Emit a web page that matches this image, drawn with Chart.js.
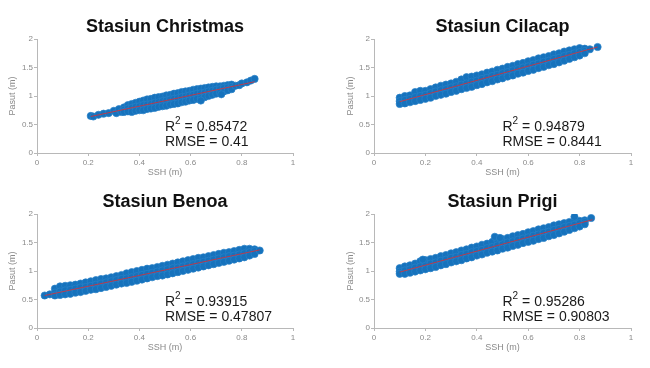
<!DOCTYPE html>
<html>
<head>
<meta charset="utf-8">
<script src="https://cdn.jsdelivr.net/npm/chart.js@4.4.1/dist/chart.umd.min.js"></script>
<style>
  html, body { margin: 0; padding: 0; background: #fff; width: 650px; height: 368px; overflow: hidden; }
  .panel { position: absolute; width: 325px; height: 184px; }
</style>
</head>
<body>
<div class="panel" style="left:0;top:0"><canvas id="c0" width="325" height="184"></canvas></div>
<div class="panel" style="left:325px;top:0"><canvas id="c1" width="325" height="184"></canvas></div>
<div class="panel" style="left:0;top:184px"><canvas id="c2" width="325" height="184"></canvas></div>
<div class="panel" style="left:325px;top:184px"><canvas id="c3" width="325" height="184"></canvas></div>
<script>
// ---------------- DATA ----------------
const stationNames = ['Stasiun Christmas', 'Stasiun Cilacap', 'Stasiun Benoa', 'Stasiun Prigi'];
const r2Values = ['0.85472', '0.94879', '0.93915', '0.95286'];
const rmseValues = ['0.41', '0.8441', '0.47807', '0.90803'];
const xTicks = [0, 0.2, 0.4, 0.6, 0.8, 1];
const yTicks = [0, 0.5, 1, 1.5, 2];
const xLabel = 'SSH (m)';
const yLabel = 'Pasut (m)';

// regression line end points [x0, x1], [y0, y1]
const christmasFitX = [0.21, 0.85], christmasFitY = [0.64, 1.25];
const cilacapFitX = [0.10, 0.87], cilacapFitY = [0.90, 1.86];
const benoaFitX = [0.03, 0.87], benoaFitY = [0.57, 1.37];
const prigiFitX = [0.10, 0.85], prigiFitY = [0.98, 1.90];

// scatter samples [SSH, Pasut]
const christmasPoints = [
  [0.21,0.65],[0.22,0.64],[0.24,0.67],[0.26,0.69],[0.28,0.70],[0.30,0.74],[0.31,0.70],[0.32,0.77],[0.33,0.72],
  [0.34,0.80],[0.34,0.76],[0.34,0.72],[0.355,0.84],[0.355,0.78],[0.355,0.73],[0.37,0.86],[0.37,0.79],[0.37,0.72],
  [0.385,0.88],[0.385,0.81],[0.385,0.74],[0.40,0.90],[0.40,0.82],[0.40,0.75],[0.415,0.92],[0.415,0.84],[0.415,0.75],
  [0.43,0.94],[0.43,0.85],[0.43,0.77],[0.445,0.95],[0.445,0.86],[0.445,0.78],[0.46,0.97],[0.46,0.88],[0.46,0.79],
  [0.475,0.98],[0.475,0.89],[0.475,0.81],[0.49,0.99],[0.49,0.91],[0.49,0.82],[0.505,1.01],[0.505,0.92],[0.505,0.83],
  [0.52,1.02],[0.52,0.94],[0.52,0.85],[0.535,1.04],[0.535,0.95],[0.535,0.86],[0.55,1.05],[0.55,0.96],[0.55,0.87],
  [0.565,1.07],[0.565,0.98],[0.565,0.89],[0.58,1.08],[0.58,0.99],[0.58,0.90],[0.595,1.09],[0.595,1.01],[0.595,0.92],
  [0.61,1.11],[0.61,1.02],[0.61,0.93],[0.625,1.12],[0.625,1.04],[0.625,0.95],[0.64,1.13],[0.64,1.05],[0.64,0.96],
  [0.655,1.14],[0.655,1.06],[0.655,0.98],[0.67,1.15],[0.67,1.08],[0.67,1.00],[0.685,1.16],[0.685,1.09],[0.685,1.02],
  [0.70,1.17],[0.70,1.11],[0.70,1.04],[0.715,1.17],[0.715,1.12],[0.715,1.06],[0.73,1.18],[0.73,1.14],[0.73,1.08],
  [0.745,1.19],[0.745,1.15],[0.745,1.10],[0.76,1.20],[0.76,1.16],[0.76,1.12],
  [0.775,1.18],[0.79,1.19],[0.80,1.22],[0.82,1.24],[0.835,1.27],[0.85,1.30],[0.72,1.03],[0.64,0.92]
];
const cilacapPoints = [
  [0.10,0.97],[0.10,0.91],[0.10,0.86],[0.12,1.00],[0.12,0.93],[0.12,0.87],[0.14,1.01],[0.14,0.95],[0.14,0.89],
  [0.16,1.07],[0.16,0.98],[0.16,0.91],[0.18,1.09],[0.18,1.00],[0.18,0.93],[0.20,1.09],[0.20,1.02],[0.20,0.95],
  [0.22,1.12],[0.22,1.05],[0.22,0.97],[0.24,1.15],[0.24,1.08],[0.24,1.00],[0.26,1.18],[0.26,1.10],[0.26,1.02],
  [0.28,1.20],[0.28,1.12],[0.28,1.04],[0.30,1.22],[0.30,1.15],[0.30,1.07],[0.32,1.25],[0.32,1.17],[0.32,1.09],
  [0.34,1.29],[0.34,1.20],[0.34,1.12],[0.36,1.33],[0.36,1.22],[0.36,1.14],[0.38,1.34],[0.38,1.25],[0.38,1.16],
  [0.40,1.36],[0.40,1.27],[0.40,1.19],[0.42,1.38],[0.42,1.30],[0.42,1.21],[0.44,1.41],[0.44,1.32],[0.44,1.24],
  [0.46,1.43],[0.46,1.35],[0.46,1.26],[0.48,1.46],[0.48,1.37],[0.48,1.29],[0.50,1.48],[0.50,1.40],[0.50,1.31],
  [0.52,1.51],[0.52,1.42],[0.52,1.34],[0.54,1.53],[0.54,1.45],[0.54,1.36],[0.56,1.56],[0.56,1.47],[0.56,1.39],
  [0.58,1.58],[0.58,1.50],[0.58,1.41],[0.60,1.61],[0.60,1.52],[0.60,1.44],[0.62,1.63],[0.62,1.55],[0.62,1.46],
  [0.64,1.66],[0.64,1.57],[0.64,1.49],[0.66,1.68],[0.66,1.60],[0.66,1.51],[0.68,1.70],[0.68,1.62],[0.68,1.54],
  [0.70,1.73],[0.70,1.65],[0.70,1.56],[0.72,1.75],[0.72,1.67],[0.72,1.59],[0.74,1.78],[0.74,1.70],[0.74,1.62],
  [0.76,1.80],[0.76,1.72],[0.76,1.65],[0.78,1.82],[0.78,1.75],[0.78,1.68],[0.80,1.84],[0.80,1.77],[0.80,1.71],
  [0.82,1.83],[0.82,1.79],[0.82,1.75],[0.84,1.82],[0.87,1.86]
];
const benoaPoints = [
  [0.03,0.57],[0.05,0.59],
  [0.07,0.69],[0.07,0.62],[0.07,0.57],[0.09,0.73],[0.09,0.64],[0.09,0.58],[0.11,0.74],[0.11,0.66],[0.11,0.59],
  [0.13,0.75],[0.13,0.67],[0.13,0.60],[0.15,0.76],[0.15,0.69],[0.15,0.62],[0.17,0.78],[0.17,0.71],[0.17,0.63],
  [0.19,0.80],[0.19,0.72],[0.19,0.65],[0.21,0.82],[0.21,0.74],[0.21,0.67],[0.23,0.84],[0.23,0.76],[0.23,0.68],
  [0.25,0.86],[0.25,0.78],[0.25,0.70],[0.27,0.87],[0.27,0.80],[0.27,0.72],[0.29,0.89],[0.29,0.82],[0.29,0.74],
  [0.31,0.91],[0.31,0.84],[0.31,0.76],[0.33,0.93],[0.33,0.86],[0.33,0.78],[0.35,0.96],[0.35,0.87],[0.35,0.79],
  [0.37,0.98],[0.37,0.89],[0.37,0.81],[0.39,1.00],[0.39,0.91],[0.39,0.83],[0.41,1.02],[0.41,0.93],[0.41,0.85],
  [0.43,1.04],[0.43,0.95],[0.43,0.87],[0.45,1.05],[0.45,0.97],[0.45,0.89],[0.47,1.07],[0.47,0.99],[0.47,0.91],
  [0.49,1.09],[0.49,1.01],[0.49,0.92],[0.51,1.11],[0.51,1.03],[0.51,0.94],[0.53,1.13],[0.53,1.05],[0.53,0.96],
  [0.55,1.15],[0.55,1.06],[0.55,0.98],[0.57,1.17],[0.57,1.08],[0.57,1.00],[0.59,1.19],[0.59,1.10],[0.59,1.02],
  [0.61,1.21],[0.61,1.12],[0.61,1.04],[0.63,1.23],[0.63,1.14],[0.63,1.06],[0.65,1.24],[0.65,1.16],[0.65,1.08],
  [0.67,1.26],[0.67,1.18],[0.67,1.10],[0.69,1.28],[0.69,1.20],[0.69,1.12],[0.71,1.30],[0.71,1.22],[0.71,1.14],
  [0.73,1.32],[0.73,1.24],[0.73,1.16],[0.75,1.33],[0.75,1.26],[0.75,1.18],[0.77,1.35],[0.77,1.27],[0.77,1.20],
  [0.79,1.37],[0.79,1.29],[0.79,1.22],[0.81,1.39],[0.81,1.31],[0.81,1.24],[0.83,1.39],[0.83,1.33],[0.83,1.27],
  [0.85,1.38],[0.85,1.35],[0.85,1.30],[0.87,1.36]
];
const prigiPoints = [
  [0.10,1.05],[0.10,0.99],[0.10,0.95],[0.12,1.08],[0.12,1.01],[0.12,0.95],[0.14,1.10],[0.14,1.03],[0.14,0.97],
  [0.16,1.13],[0.16,1.06],[0.16,0.99],[0.18,1.17],[0.18,1.08],[0.18,1.01],[0.20,1.19],[0.20,1.10],[0.20,1.03],
  [0.22,1.21],[0.22,1.13],[0.22,1.05],[0.24,1.23],[0.24,1.15],[0.24,1.07],[0.26,1.26],[0.26,1.18],[0.26,1.10],
  [0.28,1.28],[0.28,1.20],[0.28,1.12],[0.30,1.31],[0.30,1.23],[0.30,1.15],[0.32,1.33],[0.32,1.25],[0.32,1.17],
  [0.34,1.36],[0.34,1.28],[0.34,1.19],[0.36,1.38],[0.36,1.30],[0.36,1.22],[0.38,1.41],[0.38,1.33],[0.38,1.24],
  [0.40,1.43],[0.40,1.35],[0.40,1.27],[0.42,1.46],[0.42,1.37],[0.42,1.29],[0.44,1.48],[0.44,1.40],[0.44,1.32],
  [0.46,1.51],[0.46,1.42],[0.46,1.34],[0.48,1.53],[0.48,1.45],[0.48,1.36],[0.50,1.56],[0.50,1.47],[0.50,1.39],
  [0.52,1.58],[0.52,1.50],[0.52,1.41],[0.54,1.61],[0.54,1.52],[0.54,1.44],[0.56,1.63],[0.56,1.55],[0.56,1.46],
  [0.58,1.65],[0.58,1.57],[0.58,1.49],[0.60,1.68],[0.60,1.59],[0.60,1.51],[0.62,1.70],[0.62,1.62],[0.62,1.53],
  [0.64,1.73],[0.64,1.64],[0.64,1.56],[0.66,1.75],[0.66,1.67],[0.66,1.58],[0.68,1.77],[0.68,1.69],[0.68,1.61],
  [0.70,1.80],[0.70,1.72],[0.70,1.63],[0.72,1.82],[0.72,1.74],[0.72,1.66],[0.74,1.84],[0.74,1.77],[0.74,1.69],
  [0.76,1.86],[0.76,1.79],[0.76,1.72],[0.78,1.88],[0.78,1.81],[0.78,1.75],[0.80,1.88],[0.80,1.84],[0.80,1.78],
  [0.82,1.89],[0.82,1.86],[0.82,1.82],[0.47,1.60],[0.49,1.58],[0.78,1.95],[0.845,1.93],[0.19,1.20]
];

const allPoints = [christmasPoints, cilacapPoints, benoaPoints, prigiPoints];
const allFitX = [christmasFitX, cilacapFitX, benoaFitX, prigiFitX];
const allFitY = [christmasFitY, cilacapFitY, benoaFitY, prigiFitY];

// ---------------- LAYOUT / STYLE ----------------
const layouts = [
  { padding: { left: 7, right: 32, top: 39, bottom: 6 }, yWidth: 30 },
  { padding: { left: 20, right: 19, top: 39, bottom: 6 }, yWidth: 29 },
  { padding: { left: 7, right: 32, top: 30, bottom: 15 }, yWidth: 30 },
  { padding: { left: 20, right: 19, top: 30, bottom: 15 }, yWidth: 29 }
];
const FONT = '"Liberation Sans", Arial, Helvetica, sans-serif';
const axisGray = '#b8b8b8';
const textGray = '#8a8a8a';

const panelText = {
  id: 'panelText',
  afterDraw(chart, args, opts) {
    const { ctx, chartArea, scales } = chart;
    ctx.save();
    ctx.fillStyle = '#111';
    ctx.textBaseline = 'middle';
    ctx.textAlign = 'center';
    ctx.font = 'bold 18px ' + FONT;
    ctx.fillText(opts.title, (chartArea.left + chartArea.right) / 2, chartArea.top - 11.5);
    ctx.textAlign = 'left';
    const px = scales.x.getPixelForValue(opts.textX);
    const py1 = scales.y.getPixelForValue(opts.r2Y);
    const py2 = scales.y.getPixelForValue(opts.rmseY);
    ctx.fillStyle = '#1a1a1a';
    ctx.font = '14px ' + FONT;
    ctx.fillText('R', px, py1);
    let w = ctx.measureText('R').width;
    ctx.font = '10px ' + FONT;
    ctx.fillText('2', px + w, py1 - 6);
    w += ctx.measureText('2').width;
    ctx.font = '14px ' + FONT;
    ctx.fillText(' = ' + opts.r2, px + w, py1);
    ctx.fillText('RMSE = ' + opts.rmse, px, py2);
    ctx.restore();
  }
};

function makeChart(i) {
  const L = layouts[i];
  const fitData = allFitX[i].map((x, k) => ({ x: x, y: allFitY[i][k] }));
  const pts = allPoints[i].map(p => ({ x: p[0], y: p[1] }));
  new Chart(document.getElementById('c' + i), {
    type: 'scatter',
    data: {
      datasets: [
        {
          data: pts,
          pointStyle: 'circle',
          pointRadius: 3.6,
          borderWidth: 0.8,
          borderColor: 'rgba(40,130,200,0.9)',
          backgroundColor: 'rgb(22,114,188)',
          order: 2
        },
        {
          type: 'line',
          data: fitData,
          showLine: true,
          borderColor: 'rgba(235,40,40,0.75)',
          borderWidth: 1,
          pointRadius: 0,
          fill: false,
          order: 1
        }
      ]
    },
    options: {
      responsive: false,
      animation: false,
      devicePixelRatio: 1,
      layout: { padding: L.padding },
      plugins: {
        legend: { display: false },
        tooltip: { enabled: false },
        title: { display: false },
        panelText: {
          title: stationNames[i], r2: r2Values[i], rmse: rmseValues[i],
          textX: 0.5, r2Y: 0.46, rmseY: 0.19
        }
      },
      scales: {
        x: {
          type: 'linear', min: 0, max: 1,
          afterBuildTicks: s => { s.ticks = xTicks.map(v => ({ value: v })); },
          afterFit: s => { s.height = 25; },
          grid: { drawOnChartArea: false, tickLength: 3, color: axisGray },
          border: { color: axisGray, width: 1 },
          ticks: { color: textGray, font: { size: 8, family: FONT }, padding: 2, maxRotation: 0,
                   callback: v => String(v) },
          title: { display: true, text: xLabel, color: textGray, font: { size: 9, family: FONT },
                   padding: { top: 0, bottom: 0 } }
        },
        y: {
          type: 'linear', min: 0, max: 2,
          afterBuildTicks: s => { s.ticks = yTicks.map(v => ({ value: v })); },
          afterFit: s => { s.width = L.yWidth; },
          grid: { drawOnChartArea: false, tickLength: 3, color: axisGray },
          border: { color: axisGray, width: 1 },
          ticks: { color: textGray, font: { size: 8, family: FONT }, padding: 1,
                   callback: v => String(v) },
          title: { display: true, text: yLabel, color: textGray, font: { size: 9, family: FONT },
                   padding: { top: 0, bottom: 0 } }
        }
      }
    },
    plugins: [panelText]
  });
}
for (let i = 0; i < 4; i++) makeChart(i);
</script>
</body>
</html>
